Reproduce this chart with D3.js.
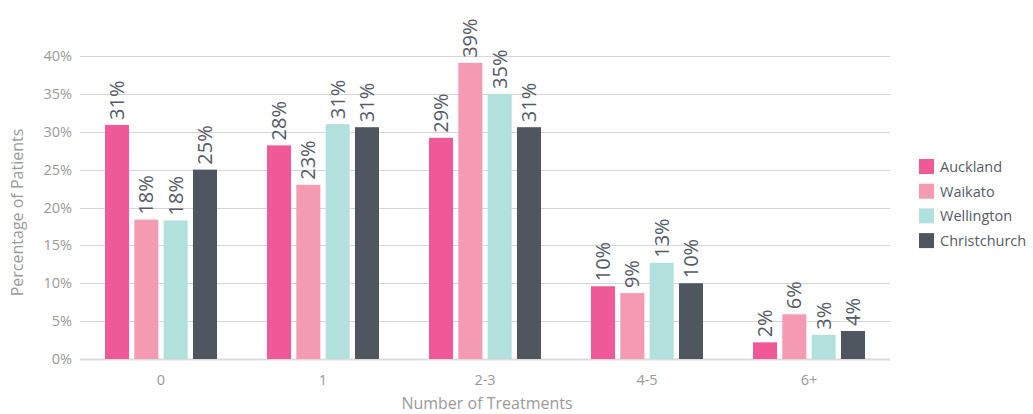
<!DOCTYPE html>
<html>
<head>
<meta charset="utf-8">
<script src="https://cdn.jsdelivr.net/npm/d3@7"></script>
<style>
  body { margin: 0; background: #fff; }
  svg text { font-family: "Open Sans", Lato, sans-serif; }
</style>
</head>
<body>
<div id="chart"></div>
<script>

// data
var categories = [ '0', '1', '2-3', '4-5', '6+' ];
var regions = [ 'Auckland', 'Waikato', 'Wellington', 'Christchurch' ];
var auckland     = [ 30.9, 28.2, 29.2, 9.6, 2.2 ];
var waikato      = [ 18.4, 23.0, 39.1, 8.7, 5.9 ];
var wellington   = [ 18.3, 31.0, 35.0, 12.7, 3.2 ];
var christchurch = [ 25.0, 30.6, 30.6, 10.0, 3.7 ];
var yTicks = [ 0, 5, 10, 15, 20, 25, 30, 35, 40 ];

var series = [ auckland, waikato, wellington, christchurch ];
var colors = [ '#ef5998', '#f49bb3', '#b2e0dc', '#4f5660' ];

var width = 1033,
    height = 414;

var margin = { left: 80, right: 143, top: 56, bottom: 55 };

var svg = d3.select('#chart').append('svg')
    .attr('width', width)
    .attr('height', height);

var x0 = d3.scaleBand()
    .domain( categories )
    .range([ margin.left, width - margin.right ])
    .paddingInner( 0 )
    .paddingOuter( 0 );

var x1 = d3.scaleBand()
    .domain( regions )
    .range([ 25, x0.bandwidth() - 25 ])
    .paddingInner( 0.18 );

var y = d3.scaleLinear()
    .domain([ 0, 40 ])
    .range([ height - margin.bottom, margin.top ]);

// grid
svg.append('g')
    .selectAll('line')
    .data( yTicks )
    .enter().append('line')
    .attr('x1', margin.left)
    .attr('x2', width - margin.right)
    .attr('y1', function ( d ) { return Math.round( y( d ) ) + 0.5; })
    .attr('y2', function ( d ) { return Math.round( y( d ) ) + 0.5; })
    .style('stroke', function ( d ) { return d === 0 ? '#dcdcdc' : '#d6d6d6'; })
    .style('stroke-width', function ( d ) { return d === 0 ? 2 : 1; });

// y tick labels
svg.append('g')
    .selectAll('text')
    .data( yTicks )
    .enter().append('text')
    .attr('x', 72)
    .attr('y', function ( d ) { return y( d ); })
    .attr('dy', '0.35em')
    .attr('text-anchor', 'end')
    .style('fill', '#9a9a9a')
    .style('font-size', '14.5px')
    .text( function ( d ) { return d + '%'; });

// x tick labels
svg.append('g')
    .selectAll('text')
    .data( categories )
    .enter().append('text')
    .attr('x', function ( d ) { return x0( d ) + x0.bandwidth() / 2; })
    .attr('y', height - margin.bottom + 26)
    .attr('text-anchor', 'middle')
    .style('fill', '#9a9a9a')
    .style('font-size', '14.5px')
    .text( function ( d ) { return d; });

// axis titles
svg.append('text')
    .attr('transform', 'translate(23,' + ( ( margin.top + height - margin.bottom ) / 2 + 5 ) + ') rotate(-90)')
    .attr('text-anchor', 'middle')
    .style('fill', '#9a9a9a')
    .style('font-size', '16px')
    .text('Percentage of Patients');

svg.append('text')
    .attr('x', x0('2-3') + x0.bandwidth() / 2 + 2)
    .attr('y', height - 5)
    .attr('text-anchor', 'middle')
    .style('fill', '#9a9a9a')
    .style('font-size', '16px')
    .text('Number of Treatments');

// bars
var groups = svg.append('g')
    .selectAll('g')
    .data( series )
    .enter().append('g')
    .style('fill', function ( d, i ) { return colors[ i ]; });

groups.each( function ( values, s ) {

    var g = d3.select( this );

    g.selectAll('rect')
        .data( values )
        .enter().append('rect')
        .attr('x', function ( d, i ) { return x0( categories[ i ] ) + x1( regions[ s ] ); })
        .attr('width', x1.bandwidth())
        .attr('y', function ( d ) { return y( d ); })
        .attr('height', function ( d ) { return y( 0 ) - y( d ); });

    g.selectAll('text')
        .data( values )
        .enter().append('text')
        .attr('transform', function ( d, i ) {
            var cx = x0( categories[ i ] ) + x1( regions[ s ] ) + x1.bandwidth() / 2;
            return 'translate(' + cx + ',' + ( y( d ) - 5 ) + ') rotate(-90)';
        })
        .attr('dy', '0.35em')
        .style('fill', '#555b66')
        .style('font-size', '20px')
        .text( function ( d ) { return Math.round( d ) + '%'; });

});

// legend
var legend = svg.append('g')
    .attr('transform', 'translate(919,159)');

var item = legend.selectAll('g')
    .data( regions )
    .enter().append('g')
    .attr('transform', function ( d, i ) { return 'translate(0,' + i * 24.7 + ')'; });

item.append('rect')
    .attr('width', 15)
    .attr('height', 15)
    .style('fill', function ( d, i ) { return colors[ i ]; });

item.append('text')
    .attr('x', 21)
    .attr('y', 8)
    .attr('dy', '0.35em')
    .style('fill', '#555b66')
    .style('font-size', '14.5px')
    .text( function ( d ) { return d; });

</script>
</body>
</html>
